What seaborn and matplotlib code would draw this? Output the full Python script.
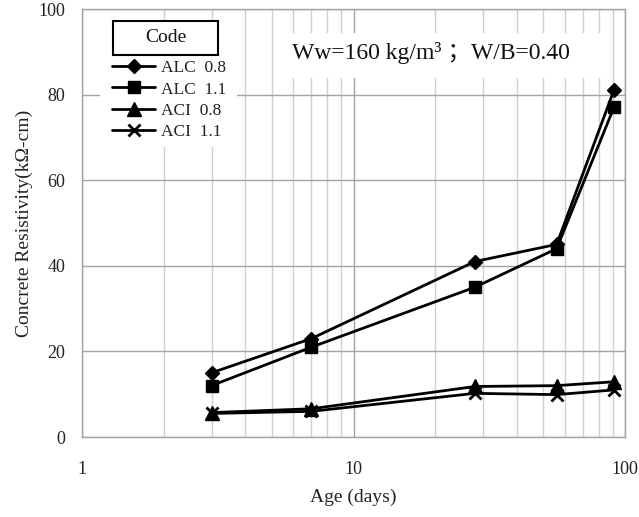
import numpy as np
import pandas as pd
import matplotlib
matplotlib.use("Agg")
import matplotlib.pyplot as plt
from matplotlib.patches import Rectangle
from matplotlib.lines import Line2D
from matplotlib.ticker import LogLocator, NullFormatter, FixedLocator
import seaborn as sns

# Ages (days) and measured resistivity (kOhm-cm) for each mix code
ages = [3, 7, 28, 56, 91]
codes = ["ALC  0.8", "ALC  1.1", "ACI  0.8", "ACI  1.1"]
alc_08 = [15, 23, 41, 45, 81]
alc_11 = [12, 21, 35, 44, 77]
aci_08 = [5.7, 6.6, 11.8, 12.0, 12.9]
aci_11 = [5.5, 6.0, 10.2, 9.9, 11.0]
y_ticks = [0, 20, 40, 60, 80, 100]
x_ticks = [1, 10, 100]

series = [alc_08, alc_11, aci_08, aci_11]
df = pd.DataFrame({
    "age": ages * len(codes),
    "rho": [v for s in series for v in s],
    "code": [c for c in codes for _ in ages],
})

sns.set_style("white")
plt.rcParams["font.family"] = ["Liberation Serif", "Noto Sans CJK SC"]

W, H = 639, 517
fig = plt.figure(figsize=(W / 100, H / 100), dpi=100)


def fx(x):
    return x / W


def fy(y):
    return 1 - y / H


ax = fig.add_axes([fx(82), fy(437), (625 - 82) / W, (437 - 9) / H])

styles = {
    "ALC  0.8": dict(marker="D", markersize=7.5, mew=1),
    "ALC  1.1": dict(marker="s", markersize=9, mew=1),
    "ACI  0.8": dict(marker="^", markersize=10, mew=1),
    "ACI  1.1": dict(marker="x", markersize=9, mew=2),
}

for code in codes:
    st = styles[code]
    sns.lineplot(data=df[df["code"] == code], x="age", y="rho", ax=ax,
                 color="black", linewidth=2, marker=st["marker"],
                 markersize=st["markersize"], markeredgewidth=st["mew"],
                 markeredgecolor="black", markerfacecolor="black",
                 legend=False, zorder=4)

ax.set_xscale("log")
ax.set_xlim(1, 100)
ax.set_ylim(0, 100)
ax.xaxis.set_major_locator(FixedLocator(x_ticks))
ax.set_xticklabels([str(t) for t in x_ticks])
ax.xaxis.set_minor_locator(LogLocator(base=10, subs=np.arange(2, 10)))
ax.xaxis.set_minor_formatter(NullFormatter())
ax.set_yticks(y_ticks)
ax.set_yticklabels([str(t) for t in y_ticks])

ax.grid(True, which="major", color="#a3a3a3", linewidth=1)
ax.grid(True, which="minor", axis="x", color="#cfcfcf", linewidth=1)
ax.set_axisbelow(True)
for sp in ax.spines.values():
    sp.set_color("#a3a3a3")
    sp.set_linewidth(1)

ax.tick_params(axis="both", which="both", length=0, labelsize=13, colors="#222222")
ax.tick_params(axis="x", pad=17)
ax.tick_params(axis="y", pad=12)

ax.set_xlabel("Age (days)", fontsize=14, color="#222222", labelpad=8)
ax.set_ylabel("Concrete Resistivity(k\u03a9-cm)", fontsize=14, color="#222222", labelpad=4)

# White panel behind the legend
fig.add_artist(Rectangle((fx(100), fy(147)), (237 - 100) / W, (147 - 20) / H,
                         transform=fig.transFigure, facecolor="white",
                         edgecolor="none", zorder=1))
# Boxed legend heading
fig.add_artist(Rectangle((fx(113), fy(55)), (218 - 113) / W, (55 - 21) / H,
                         transform=fig.transFigure, facecolor="white",
                         edgecolor="black", linewidth=1.5, zorder=2))
fig.text(fx(165.5), fy(38), "Code", ha="center", va="center", fontsize=14,
         color="#111111", zorder=3)

handles = [Line2D([], [], color="black", linewidth=2, marker=styles[c]["marker"],
                  markersize=styles[c]["markersize"], markeredgewidth=styles[c]["mew"],
                  markeredgecolor="black", markerfacecolor="black") for c in codes]
fig.legend(handles, codes, loc="upper left", bbox_to_anchor=(fx(112), fy(60)),
           bbox_transform=fig.transFigure, frameon=False, fontsize=12.5,
           handlelength=2.5, handletextpad=0.3, labelspacing=0.3,
           borderpad=0, borderaxespad=0, labelcolor="#222222")

# Mix description with a white backing
fig.add_artist(Rectangle((fx(278), fy(78)), (602 - 278) / W, (78 - 33) / H,
                         transform=fig.transFigure, facecolor="white",
                         edgecolor="none", zorder=1))
fig.text(fx(431), fy(53), "Ww=160 kg/m\u00b3 \uff1bW/B=0.40", ha="center",
         va="center", fontsize=17, color="#111111", zorder=3)

fig.savefig("out.png", dpi=100)
